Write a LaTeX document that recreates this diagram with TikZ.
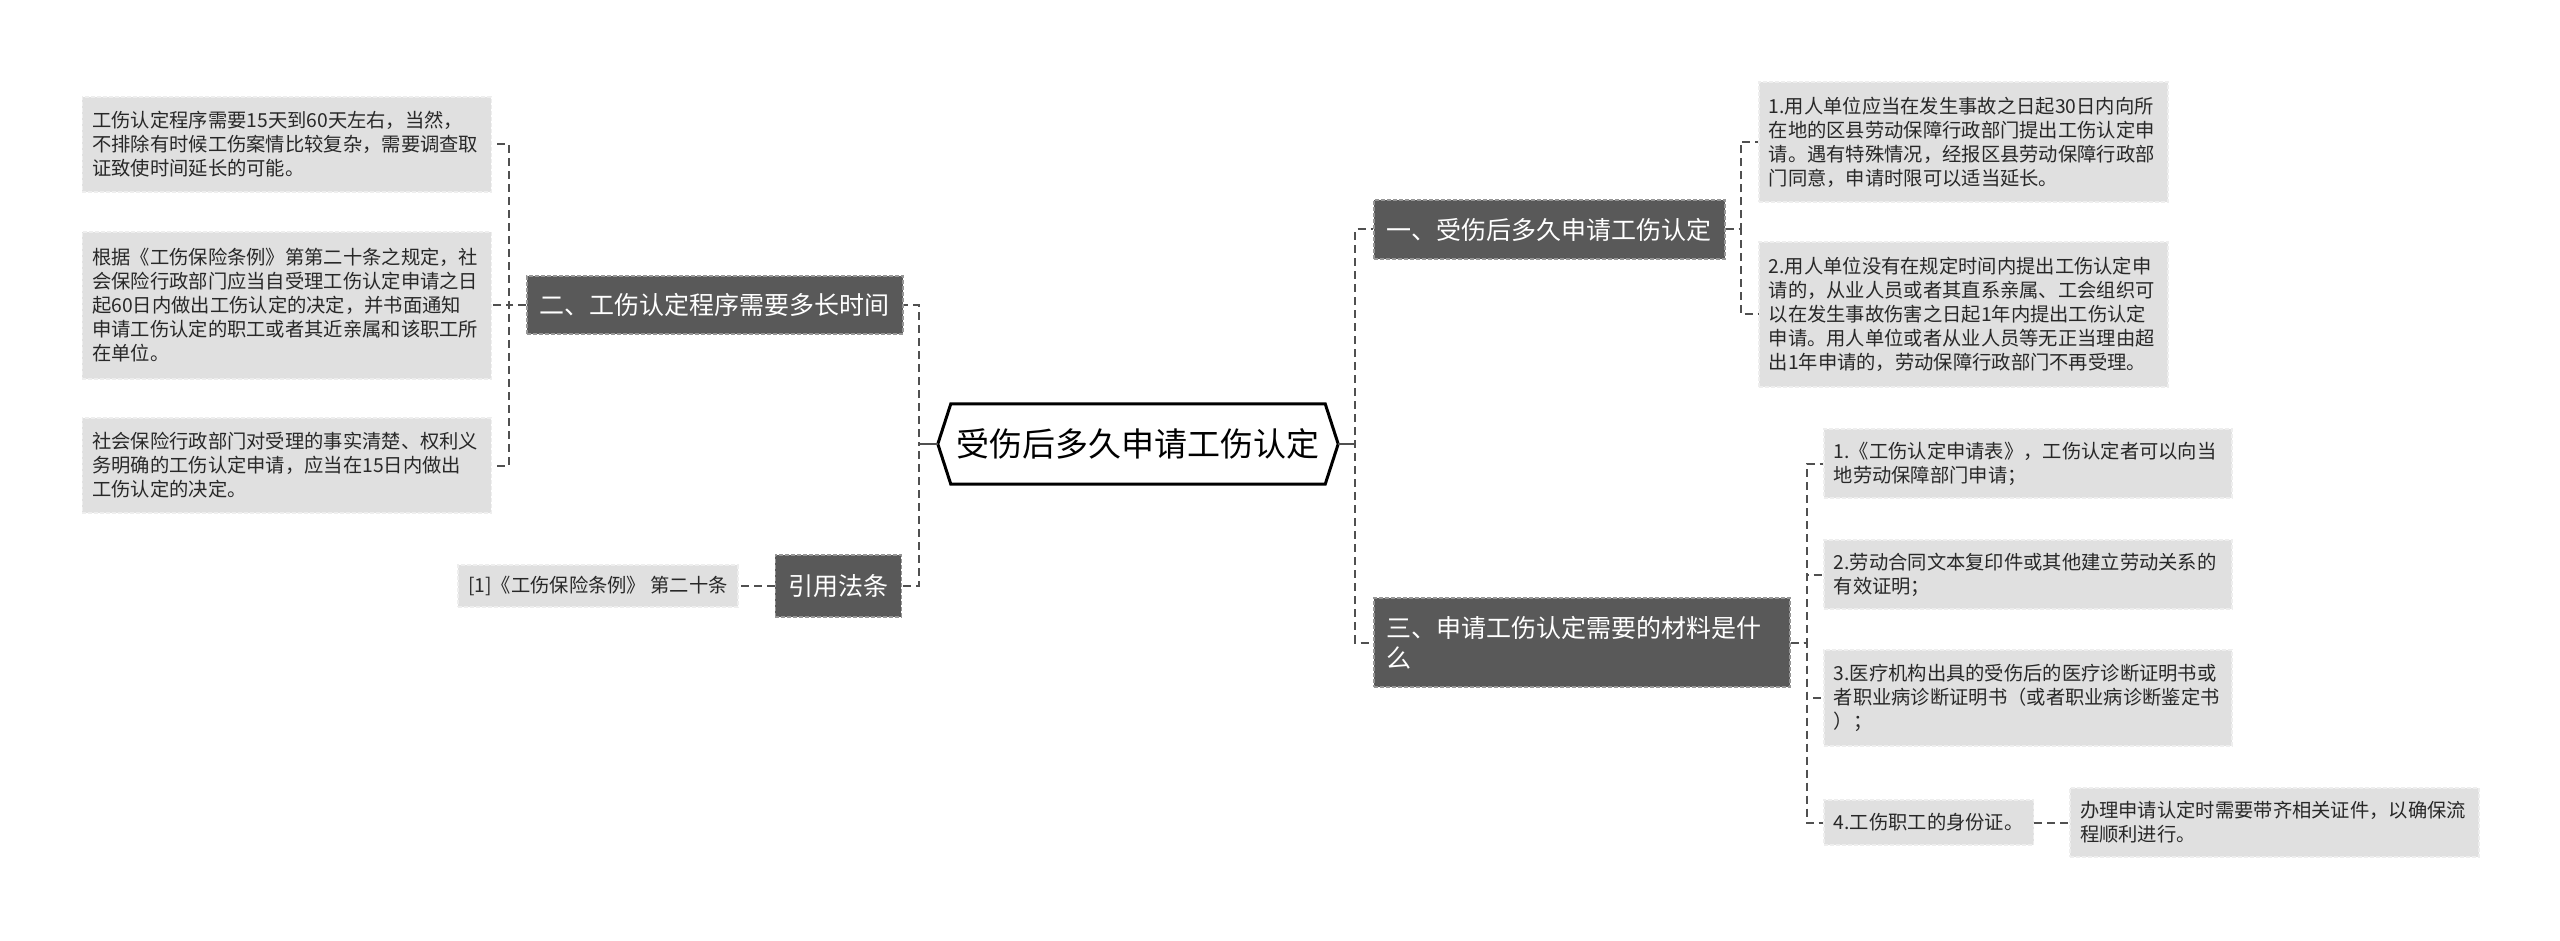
\documentclass[tikz,border=0pt]{standalone}
\usepackage{fontspec}
\setmainfont{Noto Sans CJK SC}
\usepackage{xcolor}
\usepackage{tikz}
\usetikzlibrary{positioning}
\definecolor{cinzaescuro}{RGB}{89,89,89}
\definecolor{cinzaclaro}{RGB}{224,224,224}
\definecolor{cinzalinha}{RGB}{80,80,80}
\definecolor{bordaescura}{RGB}{150,150,150}
\definecolor{bordaclara}{RGB}{238,238,238}
\definecolor{textofolha}{RGB}{40,40,40}
\tikzset{
  raiz/.style={rectangle,minimum width=400pt,minimum height=80pt,inner sep=0pt,
    font=\fontsize{33}{38}\selectfont},
  ramo/.style={rectangle,draw=bordaescura,line width=1.5pt,dash pattern=on 4pt off 2pt,
    fill=cinzaescuro,text=white,inner xsep=13pt,inner ysep=0pt,align=left,
    font=\fontsize{25}{30}\selectfont},
  folha/.style={rectangle,draw=bordaclara,line width=1.5pt,dash pattern=on 4pt off 2pt,
    fill=cinzaclaro,text=textofolha,inner xsep=10pt,inner ysep=0pt,align=left,
    font=\fontsize{19.3}{24}\selectfont},
  ligacao/.style={draw=cinzalinha,line width=2pt,dash pattern=on 8pt off 5pt},
  haste/.style={draw=cinzalinha,line width=2.5pt}
}
\begin{document}
\begin{tikzpicture}[x=1pt,y=-1pt]
\useasboundingbox (0,0) rectangle (2560,941);
\node[raiz] (raiz) at (1138,444) {受伤后多久申请工伤认定};
\draw[line width=3pt] (raiz.west) -- ([xshift=13pt]raiz.north west) -- ([xshift=-13pt]raiz.north east)
  -- (raiz.east) -- ([xshift=-13pt]raiz.south east) -- ([xshift=13pt]raiz.south west) -- cycle;

\node[ramo,anchor=west,minimum height=58pt] (ramo2) at (526,305) {二、工伤认定程序需要多长时间};
\node[ramo,anchor=east,minimum height=62pt] (ramoref) at (902,586) {引用法条};
\node[folha,left=36pt of ramoref,minimum height=42pt] (cita) {[1]《工伤保险条例》 第二十条};
\node[folha,anchor=east,text width=389pt,minimum height=95pt] (f21) at (492,144.5)
  {工伤认定程序需要15天到60天左右，当然，\\不排除有时候工伤案情比较复杂，需要调查取\\证致使时间延长的可能。};
\node[folha,anchor=east,text width=389pt,minimum height=147pt] (f22) at (492,305.5)
  {根据《工伤保险条例》第第二十条之规定，社\\会保险行政部门应当自受理工伤认定申请之日\\起60日内做出工伤认定的决定，并书面通知\\申请工伤认定的职工或者其近亲属和该职工所\\在单位。};
\node[folha,anchor=east,text width=389pt,minimum height=95pt] (f23) at (492,465.5)
  {社会保险行政部门对受理的事实清楚、权利义\\务明确的工伤认定申请，应当在15日内做出\\工伤认定的决定。};

\node[ramo,anchor=west,minimum height=59pt] (ramo1) at (1373,229.5) {一、受伤后多久申请工伤认定};
\node[folha,anchor=west,text width=389pt,minimum height=120pt] (f11) at (1758,142)
  {1.用人单位应当在发生事故之日起30日内向所\\在地的区县劳动保障行政部门提出工伤认定申\\请。遇有特殊情况，经报区县劳动保障行政部\\门同意，申请时限可以适当延长。};
\node[folha,anchor=west,text width=389pt,minimum height=145pt] (f12) at (1758,314.5)
  {2.用人单位没有在规定时间内提出工伤认定申\\请的，从业人员或者其直系亲属、工会组织可\\以在发生事故伤害之日起1年内提出工伤认定\\申请。用人单位或者从业人员等无正当理由超\\出1年申请的，劳动保障行政部门不再受理。};

\node[ramo,anchor=west,text width=390pt,minimum height=89pt] (ramo3) at (1373,642.5)
  {三、申请工伤认定需要的材料是什\\么};
\node[folha,anchor=west,text width=388pt,minimum height=69pt] (f31) at (1823,463.5)
  {1.《工伤认定申请表》，工伤认定者可以向当\\地劳动保障部门申请；};
\node[folha,anchor=west,text width=388pt,minimum height=69pt] (f32) at (1823,574.5)
  {2.劳动合同文本复印件或其他建立劳动关系的\\有效证明；};
\node[folha,anchor=west,text width=388pt,minimum height=96pt] (f33) at (1823,698)
  {3.医疗机构出具的受伤后的医疗诊断证明书或\\者职业病诊断证明书（或者职业病诊断鉴定书\\）；};
\node[folha,anchor=west,minimum height=45pt] (f34) at (1823,822.5) {4.工伤职工的身份证。};
\node[folha,right=35pt of f34,text width=389pt,minimum height=69pt] (f35)
  {办理申请认定时需要带齐相关证件，以确保流\\程顺利进行。};

\draw[ligacao] (raiz.west) -- ++(-19,0) |- (ramo2.east);
\draw[ligacao] (raiz.west) -- ++(-19,0) |- (ramoref.east);
\draw[haste] (raiz.west) -- ++(-19,0);
\draw[ligacao] (raiz.east) -- ++(17,0) |- (ramo1.west);
\draw[ligacao] (raiz.east) -- ++(17,0) |- (ramo3.west);
\draw[haste] (raiz.east) -- ++(17,0);
\foreach \f in {f21,f22,f23}
  \draw[ligacao] (ramo2.west) -- ++(-17,0) |- (\f.east);
\draw[ligacao] (ramoref.west) -- (cita.east);
\foreach \f in {f11,f12}
  \draw[ligacao] (ramo1.east) -- ++(15,0) |- (\f.west);
\foreach \f in {f31,f32,f33,f34}
  \draw[ligacao] (ramo3.east) -- ++(16,0) |- (\f.west);
\draw[ligacao] (f34.east) -- (f35.west);
\end{tikzpicture}
\end{document}
